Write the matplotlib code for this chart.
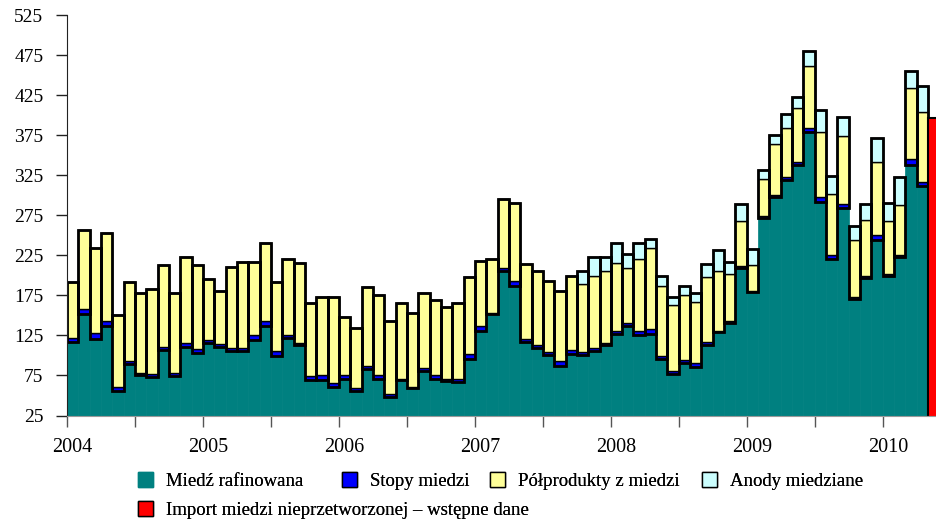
import matplotlib
matplotlib.use("Agg")
import matplotlib.pyplot as plt
import matplotlib.transforms as mtransforms
from matplotlib.patches import Patch

plt.rcParams['font.family'] = ['Liberation Serif', 'DejaVu Serif']

# monthly data, Jan 2004 - Apr 2010 (thousand tonnes)
rafinowana = [117, 152, 121, 137, 55, 89, 75, 73, 107, 74, 110, 103,
              115, 110, 106, 106, 119, 137, 99, 122, 113, 69, 69, 61,
              71, 55, 83, 71, 48, 69, 59, 80, 71, 68, 67, 95,
              131, 152, 205, 187, 117, 109, 100, 87, 102, 100, 105, 113,
              127, 137, 125, 127, 95, 77, 90, 86, 113, 129, 141, 209,
              179, 272, 298, 319, 338, 379, 292, 221, 284, 170, 197, 244,
              199, 223, 338, 311]
stopy = [5, 6, 7, 6, 6, 4, 3, 4, 4, 4, 6, 5,
         4, 4, 3, 3, 6, 6, 7, 4, 3, 5, 6, 4,
         5, 4, 4, 5, 4, 2, 2, 4, 4, 2, 3, 7,
         6, 1, 4, 6, 4, 4, 4, 6, 5, 4, 4, 3,
         4, 4, 5, 6, 4, 3, 4, 4, 4, 2, 2, 3,
         2, 2, 2, 4, 4, 5, 6, 5, 5, 3, 2, 6,
         3, 3, 7, 6]
polprodukty = [70, 99, 106, 110, 90, 99, 100, 106, 102, 100, 107, 105,
               77, 66, 102, 108, 92, 98, 86, 94, 99, 91, 98, 108,
               72, 75, 98, 99, 91, 94, 92, 94, 94, 91, 96, 96,
               81, 67, 86, 98, 93, 92, 89, 87, 92, 85, 90, 90,
               84, 68, 90, 101, 88, 83, 81, 77, 81, 75, 59, 56,
               32, 46, 64, 61, 67, 77, 81, 76, 85, 71, 70, 92,
               66, 62, 89, 87]
anody = [0] * 45 + [16, 24, 17,
                    25, 18, 21, 12, 12, 10, 12, 11, 16, 26, 15, 21,
                    20, 11, 11, 17, 14, 19, 28, 22, 24, 18, 20, 29,
                    23, 35, 21, 32]
import_wstepne = 397  # May 2010, preliminary

years = ['2004', '2005', '2006', '2007', '2008', '2009', '2010']
legend_labels = ['Miedź rafinowana', 'Stopy miedzi', 'Półprodukty z miedzi',
                 'Anody miedziane', 'Import miedzi nieprzetworzonej – wstępne dane']

c_raf = '#008080'
c_stopy = '#0000FF'
c_pol = '#FFFF99'
c_anody = '#CCFFFF'
c_imp = '#FF0000'

n = len(rafinowana)
x = list(range(n))
b1 = [rafinowana[i] + stopy[i] for i in x]
b2 = [b1[i] + polprodukty[i] for i in x]
total = [b2[i] + anody[i] for i in x]

fig = plt.figure(figsize=(9.36, 5.22), dpi=100)
ax = fig.add_axes([0.0716, 0.204, 0.9284, 0.767])

ax.bar(x, rafinowana, width=1, align='edge', color=c_raf, edgecolor=c_raf, linewidth=0.5)
ax.bar(x, stopy, bottom=rafinowana, width=1, align='edge', color=c_stopy, edgecolor='black', linewidth=1)
ax.bar(x, polprodukty, bottom=b1, width=1, align='edge', color=c_pol, edgecolor='black', linewidth=1)
ax.bar(x, anody, bottom=b2, width=1, align='edge', color=c_anody, edgecolor='black', linewidth=1)
# thick outline around everything above the refined copper
ax.bar(x, [total[i] - rafinowana[i] for i in x], bottom=rafinowana, width=1, align='edge',
       fill=False, edgecolor='black', linewidth=2)
ax.bar([n], [import_wstepne], width=1, align='edge', color=c_imp, edgecolor='black', linewidth=1.5)

ax.set_ylim(25, 525)
ax.set_xlim(0, 76.7)
ax.set_yticks(range(25, 526, 50))
ax.set_xticks(range(0, 77, 6))
ax.set_xticklabels([years[i // 2] if i % 2 == 0 else '' for i in range(13)])

ax.spines['top'].set_visible(False)
ax.spines['right'].set_visible(False)
ax.spines['left'].set_color('#222222')
ax.spines['bottom'].set_color('#999999')
ax.tick_params(axis='y', direction='out', length=8, width=1, pad=9, labelsize=14, color='#222222')
ax.tick_params(axis='x', direction='out', length=8, width=1, pad=8, labelsize=14.5, color='#555555')

offset = mtransforms.ScaledTranslation(5 / 100, 0, fig.dpi_scale_trans)
for lab in ax.get_xticklabels():
    lab.set_transform(lab.get_transform() + offset)

# legend entries placed one by one, like the original layout
handles = [Patch(facecolor=c_raf, edgecolor=c_raf),
           Patch(facecolor=c_stopy, edgecolor='black'),
           Patch(facecolor=c_pol, edgecolor='black'),
           Patch(facecolor=c_anody, edgecolor='black'),
           Patch(facecolor=c_imp, edgecolor='black')]
spots = [(138, 481), (342, 481), (490, 481), (702, 481), (138, 510)]
for h, lab, (px, py) in zip(handles, legend_labels, spots):
    leg = fig.legend([h], [lab], loc='center left', bbox_to_anchor=(px / 936, 1 - py / 522),
                     frameon=False, fontsize=13.5, handlelength=0.8, handleheight=0.8,
                     handletextpad=0.7, borderpad=0, borderaxespad=0)
    fig.add_artist(leg)

fig.savefig('out.png', dpi=100)
